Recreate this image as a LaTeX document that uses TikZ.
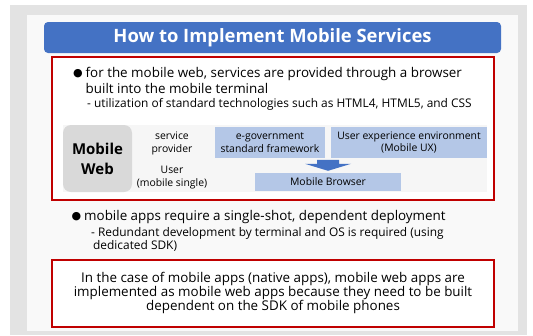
\documentclass[tikz,border=0pt]{standalone}
\usepackage{fontspec}
\setmainfont{Open Sans}
\newfontfamily\symfont{DejaVu Sans}
\usetikzlibrary{positioning,calc}
\definecolor{titleblue}{HTML}{4472C4}
\definecolor{boxred}{HTML}{C00000}
\definecolor{uxblue}{HTML}{B4C7E7}
\definecolor{arrowblue}{HTML}{4472C4}

\begin{document}
\begin{tikzpicture}[x=1pt,y=-1pt,
 redbox/.style={draw=boxred,line width=2.6pt,fill=white},
 bluebox/.style={fill=uxblue,inner sep=0pt,align=center,
  font=\fontsize{10.4}{12.5}\selectfont},
 maintext/.style={inner sep=0pt,anchor=base west,font=\fontsize{13.4}{16}\selectfont},
 subtext/.style={inner sep=0pt,anchor=base west,font=\fontsize{11.9}{13}\selectfont},
 roletext/.style={inner sep=0pt,align=center,font=\fontsize{10.4}{13}\selectfont},
 dot/.style={inner sep=0pt,anchor=base west,font=\symfont\fontsize{11}{11}\selectfont}]
 % background
 \useasboundingbox (0,0) rectangle (533,335);
 \fill[white] (0,0) rectangle (533,335);
 \fill[gray!22] (10,5) rectangle (527,335);
 \fill[gray!5] (27,15) rectangle (518,331);
 % title
 \fill[titleblue,rounded corners=4pt] (44,22) rectangle (501,53);
 \node[text=white,font=\fontsize{18.4}{20}\selectfont\bfseries] (title) at (272.5,37.5) {How to Implement Mobile Services};
 % mobile web
 \draw[redbox] (52,57) rectangle (494,200);
 \node[dot] (dot1) at (73,76) {●};
 \node[maintext] (web1) at (85.5,77) {for the mobile web, services are provided through a browser};
 \node[maintext] (web2) at (85.5,93) {built into the mobile terminal};
 \node[subtext] (web3) at (87,107) {- utilization of standard technologies such as HTML4, HTML5, and CSS};
 \fill[gray!7] (63,125) rectangle (487,192);
 \node[fill=gray!30,rounded corners=8pt,minimum width=69pt,minimum height=67pt,align=center,
  font=\fontsize{15}{20}\selectfont\bfseries] (mweb) at (97.5,158.5) {Mobile\\Web};
 \node[roletext] (provider) at (172,143) {service\\provider};
 \node[roletext] (user) at (172,177.5) {User\\(mobile single)};
 \node[bluebox,minimum width=110pt,minimum height=31pt] (egov) at (270,142.5) {e-government\\standard framework};
 \node[bluebox,minimum width=156pt,minimum height=31pt] (ux) at (409,142.5) {User experience environment\\(Mobile UX)};
 \node[bluebox,minimum width=146pt,minimum height=18pt] (browser) at (328,182) {Mobile Browser};
 \fill[arrowblue] ($(browser.north)+(-11,-13)$) -- ++(22,0) -- ++(0,4) -- ++(12,0)
  -- ($(browser.north)+(0,-2)$) -- ($(browser.north)+(-23,-9)$) -- ++(12,0) -- cycle;
 % mobile apps
 \node[dot] (dot2) at (71.5,219) {●};
 \node[maintext] (app1) at (84,220) {mobile apps require a single-shot, dependent deployment};
 \node[subtext] (app2) at (91,236) {- Redundant development by terminal and OS is required (using};
 \node[subtext] (app3) at (93,249) {dedicated SDK)};
 \draw[redbox] (52,260) rectangle (494,327);
 \node[align=center,inner sep=0pt,font=\fontsize{13.4}{14.2}\selectfont] (note) at (273,293)
  {In the case of mobile apps (native apps), mobile web apps are\\
   implemented as mobile web apps because they need to be built\\
   dependent on the SDK of mobile phones};
\end{tikzpicture}
\end{document}
